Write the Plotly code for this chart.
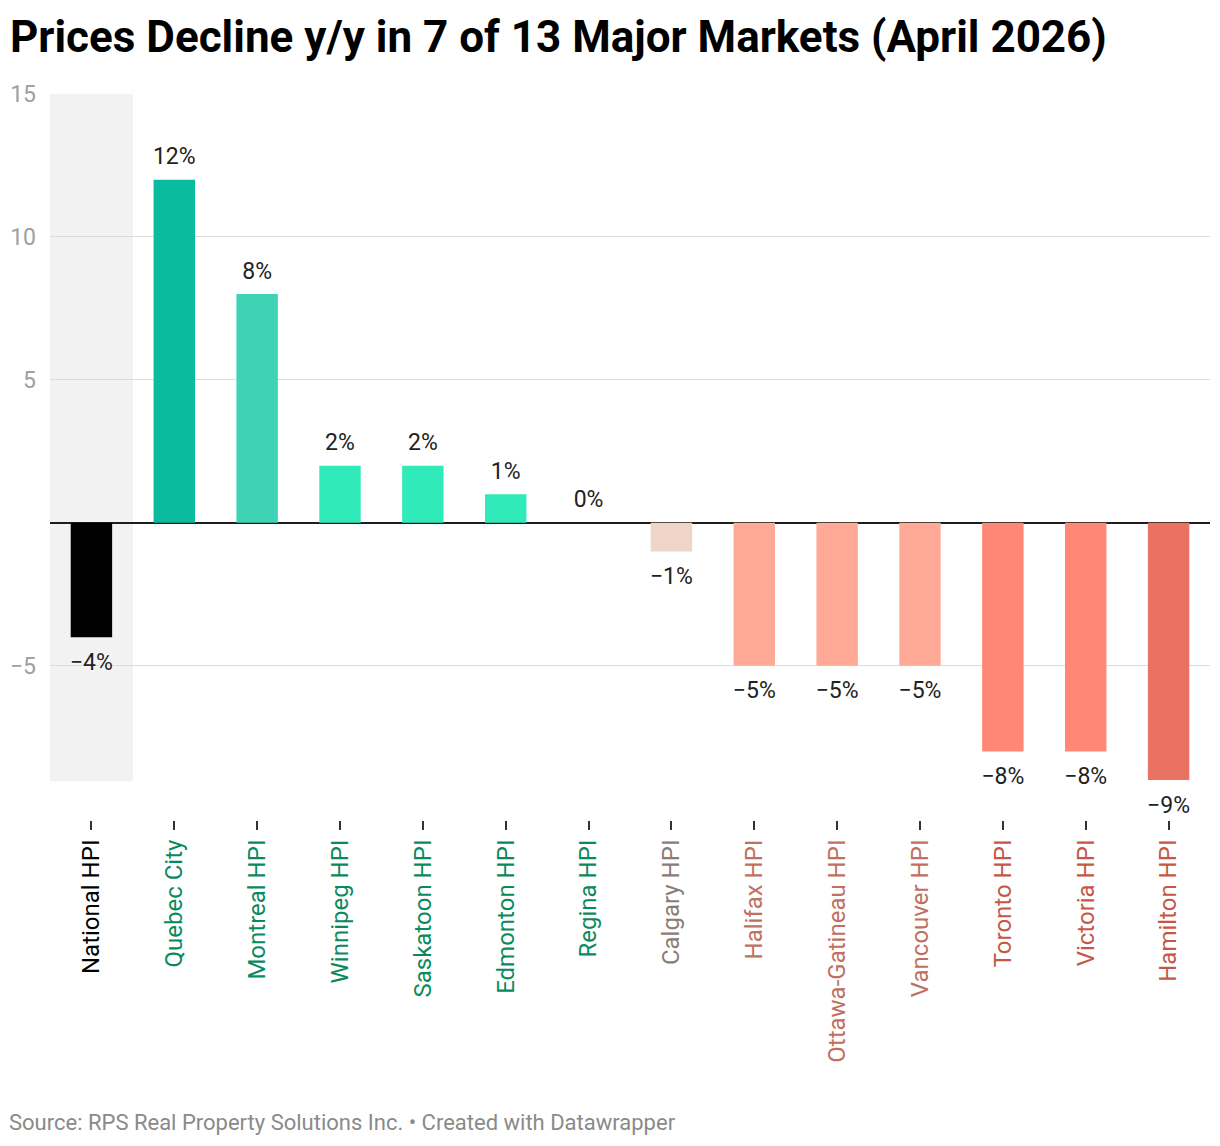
import plotly.graph_objects as go

categories = ["National HPI", "Quebec City", "Montreal HPI", "Winnipeg HPI", "Saskatoon HPI",
              "Edmonton HPI", "Regina HPI", "Calgary HPI", "Halifax HPI", "Ottawa-Gatineau HPI",
              "Vancouver HPI", "Toronto HPI", "Victoria HPI", "Hamilton HPI"]
values = [-4, 12, 8, 2, 2, 1, 0, -1, -5, -5, -5, -8, -8, -9]
bar_colors = ["#000000", "#0abb9e", "#3dd3b4", "#30ebb9", "#30ebb9", "#30ebb9", "#30ebb9",
              "#efd5c7", "#ffaa96", "#ffaa96", "#ffaa96", "#ff8776", "#ff8776", "#ea7262"]
label_colors = ["#000000", "#0a8a5c", "#0a8a5c", "#0a8a5c", "#0a8a5c", "#0a8a5c", "#0a8a5c",
                "#8a7c72", "#c0705f", "#c0705f", "#c0705f", "#c65747", "#c65747", "#c65747"]
y_ticks = [-5, 5, 10, 15]
y_tick_text = ["\u22125", "5", "10", "15"]

xs = list(range(len(categories)))
ticktext = [f"<span style='color:{c}'>{t}</span>" for t, c in zip(categories, label_colors)]
value_text = [("\u2212" if v < 0 else "") + f"{abs(v)}%" for v in values]

fig = go.Figure()
fig.add_trace(go.Bar(x=xs, y=values, marker=dict(color=bar_colors, line=dict(width=0)),
                     width=0.5, hoverinfo="skip"))

pos_idx = [i for i, v in enumerate(values) if v >= 0]
neg_idx = [i for i, v in enumerate(values) if v < 0]
fig.add_trace(go.Scatter(x=[xs[i] for i in pos_idx], y=[values[i] for i in pos_idx],
                         text=[value_text[i] for i in pos_idx], mode="markers+text",
                         marker=dict(size=14, opacity=0), textposition="top center",
                         textfont=dict(family="Roboto", size=23, color="#222222", shadow="0px 0px 3px white"),
                         cliponaxis=False, hoverinfo="skip"))
fig.add_trace(go.Scatter(x=[xs[i] for i in neg_idx], y=[values[i] for i in neg_idx],
                         text=[value_text[i] for i in neg_idx], mode="markers+text",
                         marker=dict(size=23, opacity=0), textposition="bottom center",
                         textfont=dict(family="Roboto", size=23, color="#222222", shadow="0px 0px 3px white"),
                         cliponaxis=False, hoverinfo="skip"))

fig.add_shape(type="rect", xref="x", yref="y", x0=-0.5, x1=0.5, y0=-9.05, y1=15,
              fillcolor="#f2f2f2", line=dict(width=0), layer="below")

fig.update_layout(
    width=1220, height=1146,
    margin=dict(l=50, r=10, t=94, b=326),
    paper_bgcolor="white", plot_bgcolor="white",
    showlegend=False,
    title=dict(text="<b>Prices Decline y/y in 7 of 13 Major Markets (April 2026)</b>",
               x=10 / 1220, xref="container", xanchor="left", y=1 - 37 / 1146, yanchor="middle",
               pad=dict(l=0),
               font=dict(family="Roboto", size=44, color="#000000")),
    xaxis=dict(tickmode="array", tickvals=xs, ticktext=ticktext, tickangle=-90,
               range=[-0.5, len(categories) - 0.5], anchor="free", position=0,
               showgrid=False, showline=False, zeroline=False,
               ticks="outside", ticklen=9, tickwidth=2, tickcolor="#333333",
               tickfont=dict(family="Roboto", size=24, color="#000000")),
    yaxis=dict(domain=[0.053, 1], range=[-9.05, 15], tickmode="array",
               tickvals=y_ticks, ticktext=y_tick_text,
               showgrid=True, gridcolor="#dcdcdc", gridwidth=1,
               zeroline=True, zerolinecolor="#1d1d1d", zerolinewidth=2,
               showline=False, ticks="", ticklabelstandoff=13,
               tickfont=dict(family="Roboto", size=23, color="#a0a0a0")),
    annotations=[dict(text="Source: RPS Real Property Solutions Inc. \u2022 Created with Datawrapper",
                      xref="paper", yref="paper", x=(7 - 50) / 1160, y=-(1122 - 820) / 726,
                      xanchor="left", yanchor="middle", showarrow=False,
                      font=dict(family="Roboto", size=22, color="#8a8a8a"))],
)

fig.write_html("out.html")
